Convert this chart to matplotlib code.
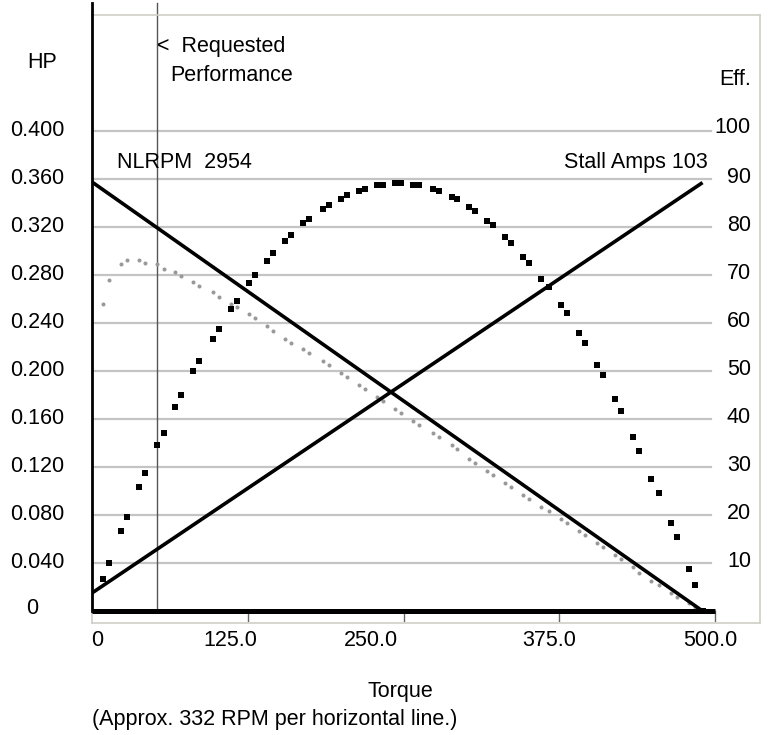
import matplotlib
matplotlib.use("Agg")
import matplotlib.pyplot as plt
import numpy as np

plt.rcParams['font.family'] = ['Liberation Sans', 'DejaVu Sans']

# ---------------- data ----------------
torque = [8.8, 13.6, 23.3, 28.1, 37.7, 42.5, 52.2, 57.8, 66.6, 71.4, 81.1, 85.9,
          97.1, 101.9, 111.6, 116.4, 126.0, 130.8, 140.4, 145.3, 154.9, 159.7,
          169.3, 174.2, 185.4, 190.2, 199.8, 204.7, 214.3, 219.1, 228.7, 233.5,
          243.2, 248.0, 257.6, 262.4, 273.7, 278.5, 288.9, 292.9, 302.6, 307.4,
          317.0, 321.8, 331.5, 336.3, 345.9, 350.7, 360.4, 366.8, 376.4, 381.2,
          390.9, 395.7, 405.3, 410.1, 419.8, 424.6, 434.2, 439.0, 448.7, 455.1,
          464.7, 469.5, 479.2, 484.0, 490.4]

efficiency = [6.6, 9.9, 16.6, 19.5, 25.8, 28.7, 34.5, 37.0, 42.4, 44.9, 49.9, 52.0,
              56.6, 58.7, 62.9, 64.5, 68.3, 69.9, 72.9, 74.5, 77.1, 78.3,
              80.8, 81.6, 83.7, 84.5, 85.8, 86.7, 87.4, 87.9, 88.7, 88.7,
              89.1, 89.1, 88.7, 88.7, 87.9, 87.4, 86.2, 85.8, 84.1, 83.3,
              81.2, 80.4, 77.9, 76.6, 73.7, 72.4, 69.1, 67.4, 63.7, 62.0,
              57.9, 55.8, 51.2, 49.1, 44.1, 41.6, 36.2, 33.3, 27.4, 24.5,
              18.3, 15.4, 8.7, 5.4, 0.1]

hp_curve = [0.2556, 0.2756, 0.2889, 0.2923, 0.2923, 0.2903, 0.2889, 0.2853, 0.2823, 0.2789,
            0.2739, 0.2706, 0.2656, 0.2619, 0.2556, 0.2536, 0.2473, 0.2439, 0.2373, 0.2336,
            0.2269, 0.2236, 0.2186, 0.2153, 0.2086, 0.2053, 0.1986, 0.1953, 0.1886, 0.1853,
            0.1786, 0.1753, 0.1686, 0.1653, 0.1586, 0.1553, 0.1486, 0.1453, 0.1386, 0.1353,
            0.1269, 0.1236, 0.1169, 0.1136, 0.1069, 0.1036, 0.0969, 0.0936, 0.0869, 0.0836,
            0.0769, 0.0736, 0.0669, 0.0636, 0.0569, 0.0536, 0.0469, 0.0436, 0.0369, 0.0319,
            0.0253, 0.0219, 0.0153, 0.0119, 0.0069, 0.0036, 0.0]

speed_line_x = [0, 490]
speed_line_y = [0.3575, 0.0]
current_line_x = [0, 490]
current_line_y = [0.015, 0.357]

requested_torque = 52.2

hp_ticks = [0.040, 0.080, 0.120, 0.160, 0.200, 0.240, 0.280, 0.320, 0.360, 0.400]
hp_labels = ["0.040", "0.080", "0.120", "0.160", "0.200", "0.240", "0.280", "0.320", "0.360", "0.400"]
eff_ticks = [10, 20, 30, 40, 50, 60, 70, 80, 90, 100]
x_ticks = [125, 250, 375, 500]
x_labels = ["0", "125.0", "250.0", "375.0", "500.0"]
x_label_pos = [4, 111, 224, 367, 496]

# ---------------- figure ----------------
W, H = 769, 735
fig = plt.figure(figsize=(W / 100, H / 100), dpi=100)
L, R, T, B = 92, 760, 15, 623
ax = fig.add_axes([L / W, (H - B) / H, (R - L) / W, (B - T) / H])
px_per_t = 623 / 500.0
xmax = (R - L) / px_per_t
ax.set_xlim(0, xmax)
ax.set_ylim(-12 / 1200, (611 - T) / 1200)
ax.set_xticks([])
ax.set_yticks([])
for s in ax.spines.values():
    s.set_color('#cfcfc7')
    s.set_linewidth(1.2)

fs = 15.5

# gridlines
for v in hp_ticks:
    ax.plot([0, 497], [v, v], color='#c4c4c4', lw=1.6, zorder=1)

# vertical requested line
ax.plot([requested_torque, requested_torque], [0, 0.5067], color='#555555', lw=1.0,
        zorder=2, clip_on=False)

# x tick marks
for t in x_ticks:
    ax.plot([t, t], [0, -10 / 1200], color='#666666', lw=1.0, zorder=2, clip_on=False)

# data
ax.plot(torque, hp_curve, linestyle='none', marker='o', ms=2.9, color='#999999',
        markeredgewidth=0, zorder=3)
ax.plot(torque, np.array(efficiency) / 250.0, linestyle='none', marker='s', ms=3.8,
        color='black', markeredgewidth=0, zorder=4)
ax.plot(speed_line_x, speed_line_y, color='black', lw=2.6, zorder=5, solid_capstyle='butt')
ax.plot(current_line_x, current_line_y, color='black', lw=2.6, zorder=5, solid_capstyle='butt')

# zero line and left axis
ax.plot([0, 500], [0, 0], color='black', lw=3.6, zorder=6, solid_capstyle='butt')
ax.plot([0, 0], [0, 0.5067], color='black', lw=2.0, zorder=6, clip_on=False)

# left labels
xl = (37 - 92) / px_per_t
for v, lab in zip(hp_ticks, hp_labels):
    ax.text(xl, v, lab, ha='center', va='center', fontsize=fs, clip_on=False)
ax.text((32 - 92) / px_per_t, 0.002, "0", ha='center', va='center', fontsize=fs, clip_on=False)
ax.text((42 - 92) / px_per_t, (611 - 63) / 1200, "HP", ha='center', va='center', fontsize=fs,
        clip_on=False)

# right labels
xr = (751 - 92) / px_per_t
for e in eff_ticks:
    ax.text(xr, e / 250.0 + 0.0015 if e != 100 else e / 250.0 + 0.0025, str(e),
            ha='right', va='center', fontsize=fs, clip_on=False)
ax.text(xr, (611 - 80) / 1200, "Eff.", ha='right', va='center', fontsize=fs, clip_on=False)

# x labels
ylab = (611 - 640) / 1200
for p, lab in zip(x_label_pos, x_labels):
    ax.text(p, ylab, lab, ha='center', va='center', fontsize=fs, clip_on=False)
ax.text((400 - 92) / px_per_t, (611 - 692) / 1200, "Torque", ha='center', va='center',
        fontsize=fs, clip_on=False)
ax.text(0, (611 - 720) / 1200, "(Approx. 332 RPM per horizontal line.)", ha='left',
        va='center', fontsize=fs, clip_on=False)

# annotations
ax.text((117 - 92) / px_per_t, (611 - 163) / 1200, "NLRPM  2954", ha='left', va='center',
        fontsize=fs)
ax.text((708 - 92) / px_per_t, (611 - 163) / 1200, "Stall Amps 103", ha='right', va='center',
        fontsize=fs)
ax.text((157 - 92) / px_per_t, (611 - 47) / 1200, "<  Requested", ha='left', va='center',
        fontsize=fs)
ax.text((170 - 92) / px_per_t, (611 - 76) / 1200, "Performance", ha='left', va='center',
        fontsize=fs)

fig.savefig("out.png", dpi=100)
